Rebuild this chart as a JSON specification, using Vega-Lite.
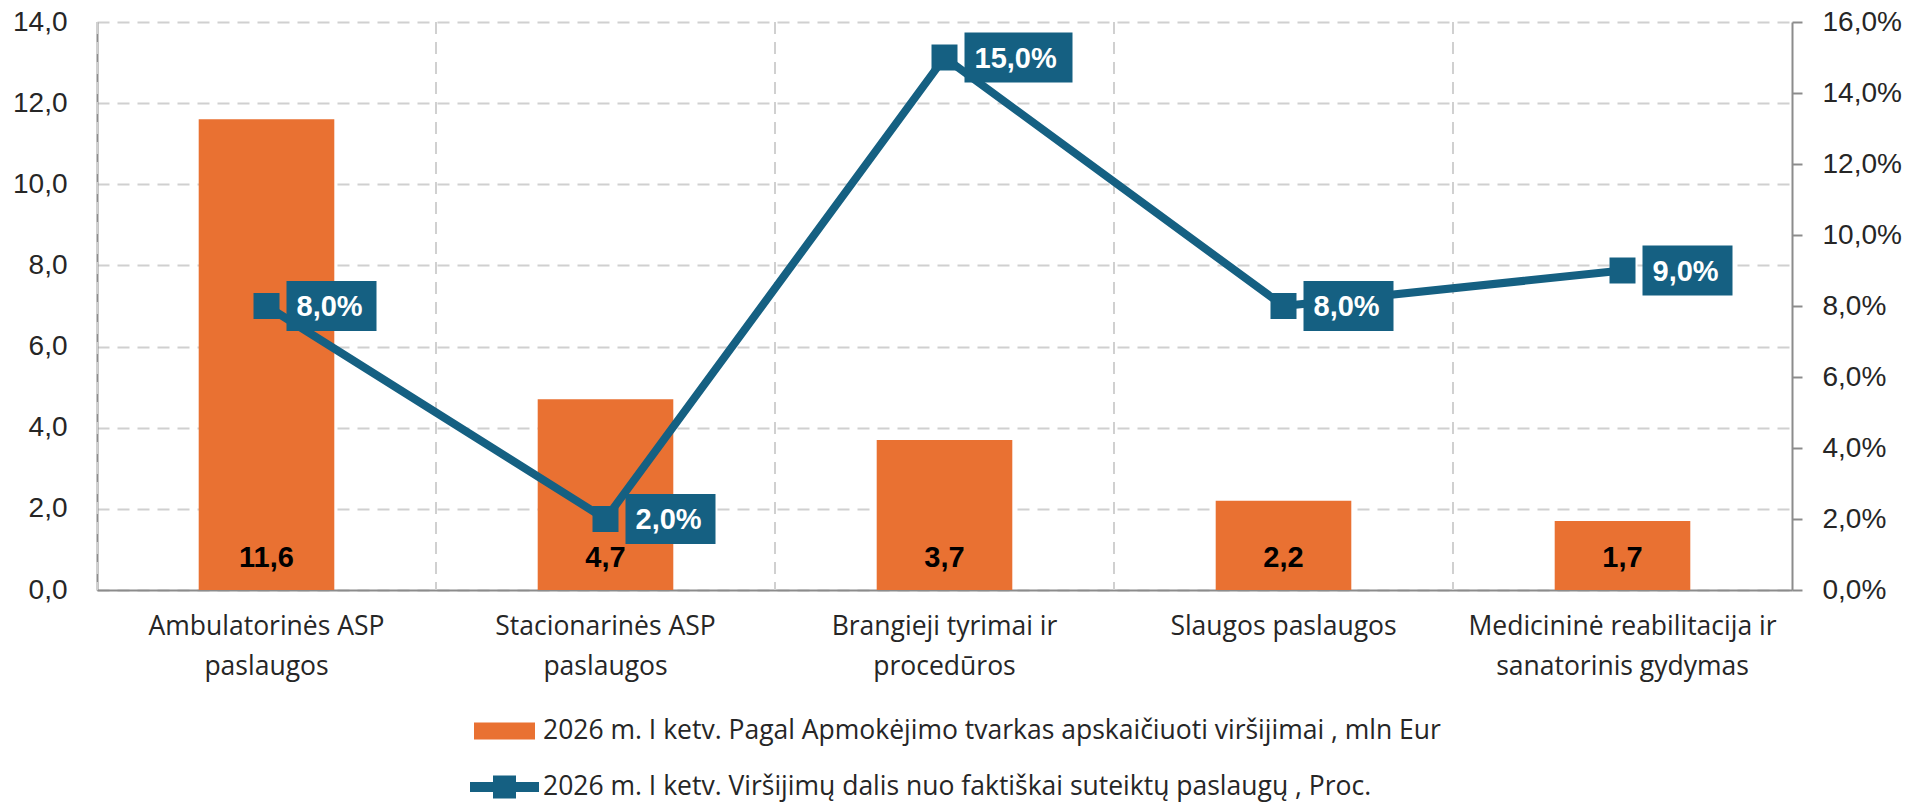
{
  "$schema": "https://vega.github.io/schema/vega-lite/v6.json",
  "width": 1695,
  "height": 568,
  "autosize": "none",
  "padding": {"left": 97, "top": 22, "right": 113, "bottom": 216},
  "background": "white",
  "config": {
    "locale": {"number": {"decimal": ",", "thousands": " ", "grouping": [3], "currency": ["", " €"]}},
    "view": {"stroke": null},
    "axis": {"domainColor": "#8C8C8C", "domainWidth": 2, "labelColor": "#262626"}
  },
  "data": {
    "values": [
      {"cat": "Ambulatorinės ASP paslaugos", "value": 11.6, "pct": 0.08},
      {"cat": "Stacionarinės ASP paslaugos", "value": 4.7, "pct": 0.02},
      {"cat": "Brangieji tyrimai ir procedūros", "value": 3.7, "pct": 0.15},
      {"cat": "Slaugos paslaugos", "value": 2.2, "pct": 0.08},
      {"cat": "Medicininė reabilitacija ir sanatorinis gydymas", "value": 1.7, "pct": 0.09}
    ]
  },
  "encoding": {
    "x": {
      "field": "cat",
      "type": "nominal",
      "sort": null,
      "scale": {"paddingInner": 0, "paddingOuter": 0},
      "axis": {
        "title": null,
        "ticks": false,
        "grid": false,
        "labelAngle": 0,
        "labelFont": "Open Sans",
        "labelFontSize": 26.5,
        "labelColor": "#262626",
        "labelPadding": 23,
        "labelLineHeight": 40,
        "labelLimit": 500,
        "labelExpr": "datum.label == 'Ambulatorinės ASP paslaugos' ? ['Ambulatorinės ASP', 'paslaugos'] : datum.label == 'Stacionarinės ASP paslaugos' ? ['Stacionarinės ASP', 'paslaugos'] : datum.label == 'Brangieji tyrimai ir procedūros' ? ['Brangieji tyrimai ir', 'procedūros'] : datum.label == 'Medicininė reabilitacija ir sanatorinis gydymas' ? ['Medicininė reabilitacija ir', 'sanatorinis gydymas'] : datum.label"
      }
    }
  },
  "layer": [
    {
      "layer": [
        {
          "mark": {"type": "rule", "strokeDash": [12, 8], "color": "#D0D0D0", "strokeWidth": 2},
          "encoding": {
            "x": {"field": "cat", "type": "nominal", "sort": null, "bandPosition": 0}
          }
        },
        {
          "mark": {"type": "bar", "width": {"band": 0.4}},
          "encoding": {
            "y": {
              "field": "value",
              "type": "quantitative",
              "scale": {"domain": [0, 14], "nice": false},
              "axis": {
                "title": null,
                "orient": "left",
                "values": [0, 2, 4, 6, 8, 10, 12, 14],
                "format": ".1f",
                "grid": true,
                "gridDash": [12, 8],
                "gridColor": "#D0D0D0",
                "gridWidth": 2,
                "ticks": false,
                "labelPadding": 30,
                "labelFont": "Liberation Sans",
                "labelFontSize": 28,
                "labelColor": "#262626"
              }
            },
            "color": {
              "datum": "2026 m. I ketv. Pagal Apmokėjimo tvarkas apskaičiuoti viršijimai , mln Eur",
              "type": "nominal",
              "scale": {
                "domain": [
                  "2026 m. I ketv. Pagal Apmokėjimo tvarkas apskaičiuoti viršijimai , mln Eur",
                  "2026 m. I ketv. Viršijimų dalis nuo faktiškai suteiktų paslaugų , Proc."
                ],
                "range": ["#E97132", "#156082"]
              },
              "legend": {
                "title": null,
                "orient": "none",
                "legendX": 387.5,
                "legendY": 689,
                "direction": "vertical",
                "padding": 0,
                "symbolSize": 1600,
                "labelFont": "Open Sans",
                "labelFontSize": 26.5,
                "labelColor": "#262626",
                "labelLimit": 2000,
                "labelOffset": 18.5,
                "rowPadding": 22,
                "encode": {
                  "symbols": {
                    "update": {
                      "shape": {"signal": "datum.index === 0 ? 'M-1.525,-0.425H1.525V0.425H-1.525Z' : 'M-1.725,-0.25H-0.575V-0.575H0.575V-0.25H1.725V0.25H0.575V0.575H-0.575V0.25H-1.725Z'"},
                      "fill": {"signal": "datum.index === 0 ? '#E97132' : '#156082'"},
                      "stroke": {"value": "transparent"},
                      "strokeWidth": {"value": 0},
                      "opacity": {"value": 1},
                      "fillOpacity": {"value": 1}
                    }
                  }
                }
              }
            }
          }
        },
        {
          "mark": {"type": "text", "baseline": "alphabetic", "dy": -23, "font": "Liberation Sans", "fontWeight": "bold", "fontSize": 29, "color": "black"},
          "encoding": {
            "y": {"datum": 0, "type": "quantitative"},
            "text": {"field": "value", "type": "quantitative", "format": ".1f"}
          }
        }
      ]
    },
    {
      "encoding": {
        "y": {
          "field": "pct",
          "type": "quantitative",
          "scale": {"domain": [0, 0.16], "nice": false},
          "axis": {
            "title": null,
            "orient": "right",
            "values": [0, 0.02, 0.04, 0.06, 0.08, 0.1, 0.12, 0.14, 0.16],
            "format": ".1%",
            "grid": false,
            "ticks": true,
            "tickSize": 10,
            "tickColor": "#8C8C8C",
            "tickWidth": 2,
            "labelPadding": 20,
            "labelFont": "Liberation Sans",
            "labelFontSize": 28,
            "labelColor": "#262626"
          }
        }
      },
      "layer": [
        {
          "mark": {"type": "line", "strokeWidth": 8, "strokeJoin": "round", "point": {"shape": "square", "size": 676, "filled": true, "opacity": 1}},
          "encoding": {
            "color": {"datum": "2026 m. I ketv. Viršijimų dalis nuo faktiškai suteiktų paslaugų , Proc.", "type": "nominal"}
          }
        },
        {
          "mark": {"type": "point", "filled": true, "opacity": 1, "size": 2500, "color": "#156082", "strokeWidth": 0},
          "encoding": {
            "shape": {"condition": {"test": "datum.pct >= 0.1", "value": "M0.8,-1H5.12V1H0.8Z"}, "value": "M0.8,-1H4.4V1H0.8Z"}
          }
        },
        {
          "mark": {"type": "text", "align": "left", "baseline": "middle", "dx": 30, "dy": 1, "font": "Liberation Sans", "fontWeight": "bold", "fontSize": 29, "color": "white"},
          "encoding": {
            "text": {"field": "pct", "type": "quantitative", "format": ".1%"}
          }
        }
      ]
    }
  ],
  "resolve": {"scale": {"y": "independent"}}
}
